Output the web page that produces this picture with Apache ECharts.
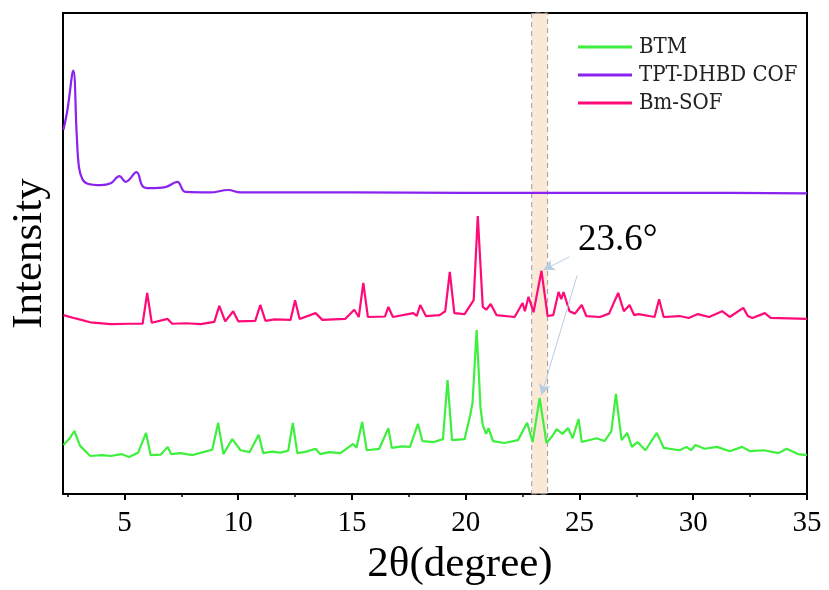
<!DOCTYPE html>
<html>
<head>
<meta charset="utf-8">
<script src="https://cdn.jsdelivr.net/npm/echarts@6/dist/echarts.min.js"></script>
<style>
  html, body { margin: 0; padding: 0; background: #fff; }
  #chart { width: 829px; height: 590px; }
</style>
</head>
<body>
<div id="chart"></div>
<script>
// 2theta / intensity (arbitrary units, curves already offset)
const btm = [
  [2.32, 10.2], [2.6, 11.6], [2.8, 13.1], [3.05, 10.0], [3.5, 7.9], [4.0, 8.1], [4.4, 7.9], [4.87, 8.3], [5.2, 7.7],
  [5.6, 8.6], [5.95, 12.7], [6.15, 8.1], [6.6, 8.2], [6.9, 9.8], [7.05, 8.3], [7.45, 8.5], [8.0, 8.1],
  [8.46, 8.7], [8.86, 9.2], [9.12, 14.8], [9.35, 8.3], [9.74, 11.4], [10.1, 9.1], [10.5, 8.7],
  [10.9, 12.3], [11.1, 8.5], [11.5, 8.8], [11.85, 8.6], [12.2, 9.0], [12.4, 14.8], [12.6, 8.5],
  [13.0, 8.8], [13.4, 9.4], [13.6, 8.3], [14.0, 8.7], [14.5, 8.5], [15.05, 10.4], [15.2, 9.6],
  [15.45, 15.0], [15.65, 9.1], [16.2, 9.4], [16.6, 13.7], [16.75, 9.6], [17.2, 9.9], [17.55, 9.8],
  [17.9, 14.6], [18.1, 11.0], [18.6, 10.8], [19.0, 11.4], [19.2, 23.7], [19.4, 11.2], [19.95, 11.4],
  [20.2, 16.4], [20.3, 19.0], [20.48, 34.1], [20.65, 18.0], [20.75, 14.3], [20.9, 12.5], [21.0, 13.7],
  [21.2, 11.0], [21.7, 10.6], [22.3, 11.2], [22.7, 14.8], [22.94, 10.8], [23.25, 20.0], [23.55, 10.6],
  [23.8, 12.0], [24.0, 13.5], [24.25, 12.5], [24.5, 13.7], [24.7, 11.6], [24.96, 15.6], [25.1, 10.8],
  [25.75, 11.6], [26.1, 11.0], [26.4, 13.0], [26.6, 20.8], [26.85, 11.2], [27.1, 12.7], [27.3, 9.8],
  [27.55, 10.8], [27.9, 9.1], [28.4, 12.7], [28.7, 9.6], [29.4, 9.1], [29.7, 9.8], [29.9, 9.1],
  [30.1, 10.2], [30.5, 9.4], [31.05, 9.8], [31.6, 8.9], [32.15, 9.8], [32.5, 8.9], [33.1, 9.1],
  [33.75, 8.5], [34.1, 9.4], [34.6, 8.3], [35.0, 8.1]
];

const tptCof = [
  [2.32, 75.7], [2.5, 80.0], [2.75, 88.0], [2.9, 75.0], [3.0, 68.0], [3.15, 65.5], [3.38, 64.5],
  [3.95, 64.2], [4.4, 64.6], [4.78, 66.1], [5.05, 64.9], [5.53, 66.9], [5.8, 64.0], [6.1, 63.6],
  [6.8, 63.8], [7.32, 64.9], [7.68, 62.8], [8.77, 62.7], [9.56, 63.2], [10.1, 62.7], [15.0, 62.7],
  [20.0, 62.6], [25.0, 62.6], [30.0, 62.6], [35.0, 62.5]
];

const bmSof = [
  [2.32, 37.2], [2.85, 36.5], [3.5, 35.7], [4.4, 35.3], [5.25, 35.4], [5.8, 35.4], [6.0, 41.8],
  [6.2, 35.6], [6.9, 36.4], [7.1, 35.4], [7.7, 35.5], [8.35, 35.3], [8.95, 35.8], [9.17, 39.1],
  [9.43, 35.9], [9.78, 38.0], [10.0, 35.9], [10.75, 36.0], [10.97, 39.3], [11.2, 36.0], [11.6, 36.3],
  [12.3, 36.2], [12.5, 40.3], [12.7, 36.4], [13.4, 37.6], [13.7, 36.2], [14.7, 36.4], [15.1, 38.3],
  [15.3, 36.8], [15.5, 43.9], [15.7, 36.8], [16.45, 36.9], [16.6, 38.9], [16.8, 36.8], [17.7, 37.6],
  [17.85, 37.0], [18.0, 39.3], [18.25, 37.0], [18.85, 37.2], [19.1, 38.0], [19.3, 46.2], [19.5, 37.6],
  [19.95, 37.4], [20.35, 40.3], [20.53, 57.8], [20.75, 38.9], [20.9, 38.3], [21.1, 39.5], [21.35, 37.2],
  [22.15, 36.8], [22.5, 39.7], [22.6, 38.0], [22.76, 41.0], [22.98, 37.8], [23.33, 46.4], [23.6, 37.0],
  [23.85, 37.2], [24.08, 42.0], [24.2, 40.5], [24.3, 42.0], [24.56, 38.0], [24.8, 37.5], [25.1, 39.3],
  [25.3, 37.0], [25.9, 36.8], [26.3, 37.5], [26.7, 41.8], [26.95, 38.0], [27.2, 39.3], [27.4, 37.2],
  [27.6, 37.4], [28.3, 36.8], [28.5, 40.5], [28.7, 36.8], [29.4, 37.0], [29.8, 36.6], [30.2, 37.4],
  [30.7, 36.8], [31.27, 38.0], [31.6, 36.8], [32.2, 38.7], [32.4, 37.0], [32.6, 36.6], [33.15, 37.6],
  [33.4, 36.6], [34.2, 36.5], [35.0, 36.4]
];

const majorTicks = [5, 10, 15, 20, 25, 30, 35];
const minorTicks = [2.5, 7.5, 12.5, 17.5, 22.5, 27.5, 32.5];
const band = [22.9, 23.6];
const peakLabel = "23.6°";
// arrow start/end in data coords: [from, to]
const arrows = [
  [[24.56, 49.3], [23.42, 46.6]],
  [[24.9, 45.5], [23.33, 20.6]]
];

const serif = "Liberation Serif, Times New Roman, serif";
const chart = echarts.init(document.getElementById("chart"));

const lineStyleBase = { width: 2.2 };

chart.setOption({
  animation: false,
  grid: {
    left: 63, right: 22, top: 13, bottom: 96,
    outerBoundsMode: "none",
    show: true, borderColor: "#000", borderWidth: 2
  },
  legend: {
    orient: "vertical",
    left: 573,
    top: 31,
    itemWidth: 54,
    itemHeight: 3,
    itemGap: 6,
    icon: "rect",
    textStyle: {
      fontFamily: "DejaVu Serif Condensed, Liberation Serif, serif",
      fontSize: 22,
      lineHeight: 22,
      color: "#222",
      padding: [0, 0, 0, 2]
    },
    data: ["BTM", "TPT-DHBD COF", "Bm-SOF"]
  },
  xAxis: [
    {
      type: "value",
      min: 2.3,
      max: 35,
      name: "2θ(degree)",
      nameLocation: "middle",
      nameGap: 39,
      nameTextStyle: { fontFamily: serif, fontSize: 43, color: "#000", padding: [0, 0, 0, 50] },
      axisLine: { show: true, lineStyle: { color: "#000", width: 2 } },
      axisTick: { show: true, customValues: majorTicks, length: 6, lineStyle: { color: "#000", width: 2 } },
      axisLabel: { customValues: majorTicks, fontFamily: serif, fontSize: 29, color: "#000", margin: 15 },
      splitLine: { show: false }
    },
    {
      type: "value",
      min: 2.3,
      max: 35,
      position: "bottom",
      axisLine: { show: false },
      axisTick: { show: true, customValues: minorTicks, length: 3, lineStyle: { color: "#000", width: 1.5 } },
      axisLabel: { show: false },
      splitLine: { show: false }
    }
  ],
  yAxis: {
    type: "value",
    min: 0,
    max: 100,
    name: "Intensity",
    nameLocation: "middle",
    nameGap: 12,
    nameTextStyle: { fontFamily: serif, fontSize: 43, color: "#000" },
    axisLine: { show: true, lineStyle: { color: "#000", width: 2 } },
    axisTick: { show: false },
    axisLabel: { show: false },
    splitLine: { show: false }
  },
  graphic: [
    {
      type: "text",
      left: 578,
      top: 222,
      style: { text: peakLabel, fontFamily: serif, fontSize: 37, fill: "#000" }
    }
  ],
  series: [
    {
      name: "BTM",
      type: "line",
      data: btm,
      showSymbol: false,
      color: "#3ef03e",
      lineStyle: lineStyleBase,
      z: 3,
      markArea: {
        silent: true,
        itemStyle: { color: "rgba(248, 218, 190, 0.6)", borderColor: "#999", borderWidth: 1, borderType: [5, 4] },
        data: [[{ xAxis: band[0] }, { xAxis: band[1] }]]
      },
      markLine: {
        silent: true,
        symbol: ["none", "arrow"],
        symbolSize: [9, 11],
        label: { show: false },
        lineStyle: { color: "#b9cde2", width: 1, type: "solid" },
        data: arrows.map(([a, b]) => [{ coord: a }, { coord: b }])
      }
    },
    {
      name: "TPT-DHBD COF",
      type: "line",
      data: tptCof,
      showSymbol: false,
      smooth: 0.4,
      color: "#8a22f0",
      lineStyle: lineStyleBase,
      z: 3
    },
    {
      name: "Bm-SOF",
      type: "line",
      data: bmSof,
      showSymbol: false,
      color: "#ff0a78",
      lineStyle: lineStyleBase,
      z: 3
    }
  ]
});
</script>
</body>
</html>
